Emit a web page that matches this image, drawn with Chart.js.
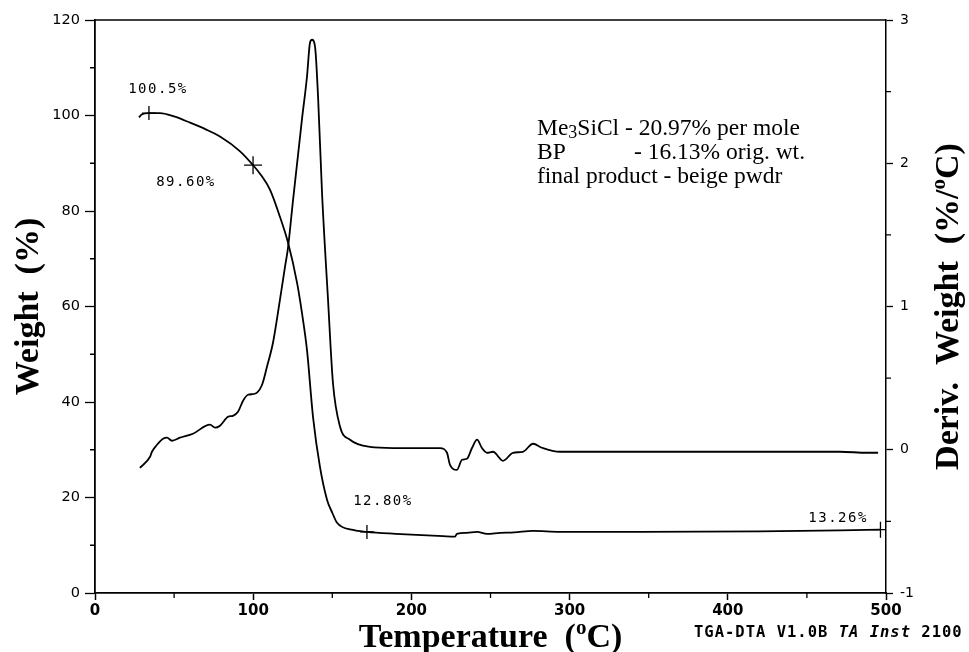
<!DOCTYPE html>
<html><head><meta charset="utf-8">
<script src="https://cdn.jsdelivr.net/npm/chart.js@4.4.1/dist/chart.umd.min.js"></script>
<style>html,body{margin:0;padding:0;background:#fff}</style>
</head><body>
<canvas id="c" width="969" height="652"></canvas>
<script>
// ---- data ----
const weightT   = [27.8, 29.5, 34.1, 41.1, 50, 60.1, 70, 79.0, 91.7, 99.9, 105, 110.6, 116.9, 122.0, 127.7, 130.8, 134.0, 137.8, 142.2, 146.7, 150, 153.0, 163.1, 171.9, 190, 220.0, 227.6, 228.8, 235, 241.5, 247.8, 256.0, 265, 276.9, 293.9, 344.5, 420, 470.9, 496.2];
const weightPct = [99.6, 100.2, 100.5, 100.5, 99.8, 98.5, 97.1, 95.6, 92.5, 89.6, 87.5, 84.5, 78.8, 73.4, 65.0, 58.7, 50.9, 36.9, 26.4, 19.5, 16.8, 14.7, 13.2, 12.8, 12.4, 11.9, 11.8, 12.4, 12.6, 12.8, 12.4, 12.6, 12.7, 13.0, 12.8, 12.8, 12.9, 13.1, 13.26];

const derivT   = [28.4, 34.8, 36.0, 39.2, 43.0, 45.5, 48.7, 53.7, 61.9, 72.7, 75.9, 79.0, 84.1, 87.2, 90.4, 93.6, 96.7, 101.1, 105.6, 108.7, 112.5, 116.9, 120.1, 122.0, 125.2, 130.8, 134.0, 135.9, 137.2, 139.1, 141.0, 143.5, 147.3, 150.4, 154.9, 161.2, 173.8, 188.4, 218.1, 222.5, 224.4, 228.8, 232.0, 235.1, 238.3, 241.5, 244.6, 247.8, 251.6, 257.9, 264.2, 270.5, 276.9, 282.6, 293.9, 407.7, 470.9, 488.0, 495.0];
const derivVal = [-0.126, -0.049, -0.014, 0.035, 0.077, 0.084, 0.063, 0.084, 0.112, 0.175, 0.154, 0.168, 0.230, 0.237, 0.265, 0.342, 0.384, 0.391, 0.454, 0.579, 0.747, 1.047, 1.277, 1.410, 1.745, 2.304, 2.604, 2.841, 2.862, 2.813, 2.464, 1.794, 1.047, 0.468, 0.161, 0.070, 0.020, 0.012, 0.012, -0.021, -0.105, -0.140, -0.070, -0.063, 0.012, 0.070, 0.012, -0.021, -0.014, -0.077, -0.021, -0.014, 0.042, 0.014, -0.014, -0.014, -0.014, -0.021, -0.021];

const markerT      = [34.1, 99.9, 171.9, 496.5];
const markerPct    = [100.5, 89.6, 12.8, 13.26];
const markerLabels = ['100.5%', '89.60%', '12.80%', '13.26%'];
const labelT       = [39.8, 57.5, 182.0, 469.7];
const labelPct     = [105.5, 86.0, 19.1, 15.7];

const minorX  = [50, 150, 250, 350, 450];
const minorY  = [10, 30, 50, 70, 90, 110];
const minorY2 = [-0.5, 0.5, 1.5, 2.5];

// ---- helpers ----
function rich(ctx, parts, x, yb, align) {
  let w = 0;
  parts.forEach(p => { ctx.font = p.f; w += ctx.measureText(p.t).width; });
  let cx = align === 'center' ? x - w / 2 : x;
  ctx.textAlign = 'left'; ctx.textBaseline = 'alphabetic';
  parts.forEach(p => { ctx.font = p.f; ctx.fillText(p.t, cx, yb + (p.dy || 0)); cx += ctx.measureText(p.t).width; });
}

const decor = {
  id: 'decor',
  afterDraw(chart) {
    const { ctx, chartArea: a, scales: { x, y, y2 } } = chart;
    ctx.save();
    ctx.strokeStyle = '#000';
    ctx.lineWidth = 1.6;
    ctx.beginPath(); ctx.moveTo(a.left, a.top); ctx.lineTo(a.right, a.top); ctx.stroke();
    ctx.lineWidth = 1.3;
    ctx.beginPath();
    minorX.forEach(v => { const p = x.getPixelForValue(v); ctx.moveTo(p, a.bottom); ctx.lineTo(p, a.bottom + 5); });
    minorY.forEach(v => { const p = y.getPixelForValue(v); ctx.moveTo(a.left, p); ctx.lineTo(a.left - 5, p); });
    minorY2.forEach(v => { const p = y2.getPixelForValue(v); ctx.moveTo(a.right, p); ctx.lineTo(a.right + 5, p); });
    ctx.stroke();

    ctx.fillStyle = '#000';
    // point labels
    ctx.font = '14px "DejaVu Sans Mono"';
    ctx.letterSpacing = '1.5px';
    ctx.textAlign = 'center'; ctx.textBaseline = 'middle';
    markerLabels.forEach((s, i) => ctx.fillText(s, x.getPixelForValue(labelT[i]), y.getPixelForValue(labelPct[i])));
    ctx.letterSpacing = '0px';

    // axis titles
    const B = '700 34px "Liberation Serif"', Bs = '700 21px "Liberation Serif"';
    rich(ctx, [{ t: 'Temperature  (', f: B }, { t: 'o', f: Bs, dy: -13 }, { t: 'C)', f: B }], (a.left + a.right) / 2, 647, 'center');
    ctx.save();
    ctx.translate(38, (a.top + a.bottom) / 2); ctx.rotate(-Math.PI / 2);
    rich(ctx, [{ t: 'Weight  (%)', f: B }], 0, 0, 'center');
    ctx.restore();
    ctx.save();
    ctx.translate(958, (a.top + a.bottom) / 2); ctx.rotate(-Math.PI / 2);
    rich(ctx, [{ t: 'Deriv.  Weight  (%/', f: B }, { t: 'o', f: Bs, dy: -13 }, { t: 'C)', f: B }], 0, 0, 'center');
    ctx.restore();

    // note block
    const F = '23.5px "Liberation Serif"', Fs = '18px "Liberation Serif"';
    rich(ctx, [{ t: 'Me', f: F }, { t: '3', f: Fs, dy: 3 }, { t: 'SiCl - 20.97% per mole', f: F }], 537, 135, 'left');
    rich(ctx, [{ t: 'BP', f: F }], 537, 159, 'left');
    rich(ctx, [{ t: '- 16.13% orig. wt.', f: F }], 634, 159, 'left');
    rich(ctx, [{ t: 'final product - beige pwdr', f: F }], 537, 183, 'left');

    // instrument footer
    const M = '700 15.5px "DejaVu Sans Mono"', Mi = 'italic 700 15.5px "DejaVu Sans Mono"';
    ctx.letterSpacing = '1px';
    rich(ctx, [{ t: 'TGA-DTA V1.0B ', f: M }, { t: 'TA Inst', f: Mi }, { t: ' 2100', f: M }], 694, 637, 'left');
    ctx.letterSpacing = '0px';
    ctx.restore();
  }
};

const pts = (xs, ys) => xs.map((v, i) => ({ x: v, y: ys[i] }));

new Chart(document.getElementById('c'), {
  type: 'line',
  data: {
    datasets: [
      { label: 'Weight', data: pts(weightT, weightPct), yAxisID: 'y', borderColor: '#000', borderWidth: 1.8,
        pointRadius: 0, cubicInterpolationMode: 'monotone', fill: false },
      { label: 'Deriv. Weight', data: pts(derivT, derivVal), yAxisID: 'y2', borderColor: '#000', borderWidth: 1.8,
        pointRadius: 0, cubicInterpolationMode: 'monotone', fill: false },
      { label: 'marks', data: pts(markerT, markerPct), yAxisID: 'y', showLine: false, pointStyle: 'cross',
        pointRadius: [7, 9, 7, 8], borderColor: '#000', pointBorderWidth: 1.3, backgroundColor: '#000' }
    ]
  },
  options: {
    responsive: false, animation: false, devicePixelRatio: 1,
    layout: { padding: { top: 20, left: 0, right: 0, bottom: 0 } },
    plugins: { legend: { display: false }, tooltip: { enabled: false } },
    scales: {
      x: {
        type: 'linear', position: 'bottom', min: 0, max: 500,
        ticks: { stepSize: 100, color: '#000', padding: 2, font: { family: 'DejaVu Sans', size: 15, weight: 'bold' } },
        grid: { drawOnChartArea: false, drawTicks: true, tickLength: 7, tickColor: '#000', tickWidth: 1.5 },
        border: { display: true, color: '#000', width: 1.8 },
        afterFit(s) { s.height = 59; }
      },
      y: {
        type: 'linear', position: 'left', min: 0, max: 120,
        ticks: { stepSize: 20, color: '#000', padding: 5, font: { family: 'DejaVu Sans', size: 14.5 } },
        grid: { drawOnChartArea: false, drawTicks: true, tickLength: 10, tickColor: '#000', tickWidth: 1.3 },
        border: { display: true, color: '#000', width: 1.8 },
        afterFit(s) { s.width = 95; }
      },
      y2: {
        type: 'linear', position: 'right', min: -1, max: 3,
        ticks: { stepSize: 1, color: '#000', padding: 7, font: { family: 'DejaVu Sans', size: 14 } },
        grid: { drawOnChartArea: false, drawTicks: true, tickLength: 7, tickColor: '#000', tickWidth: 1.3 },
        border: { display: true, color: '#000', width: 1.5 },
        afterFit(s) { s.width = 83; }
      }
    }
  },
  plugins: [decor]
});
</script>
</body></html>
